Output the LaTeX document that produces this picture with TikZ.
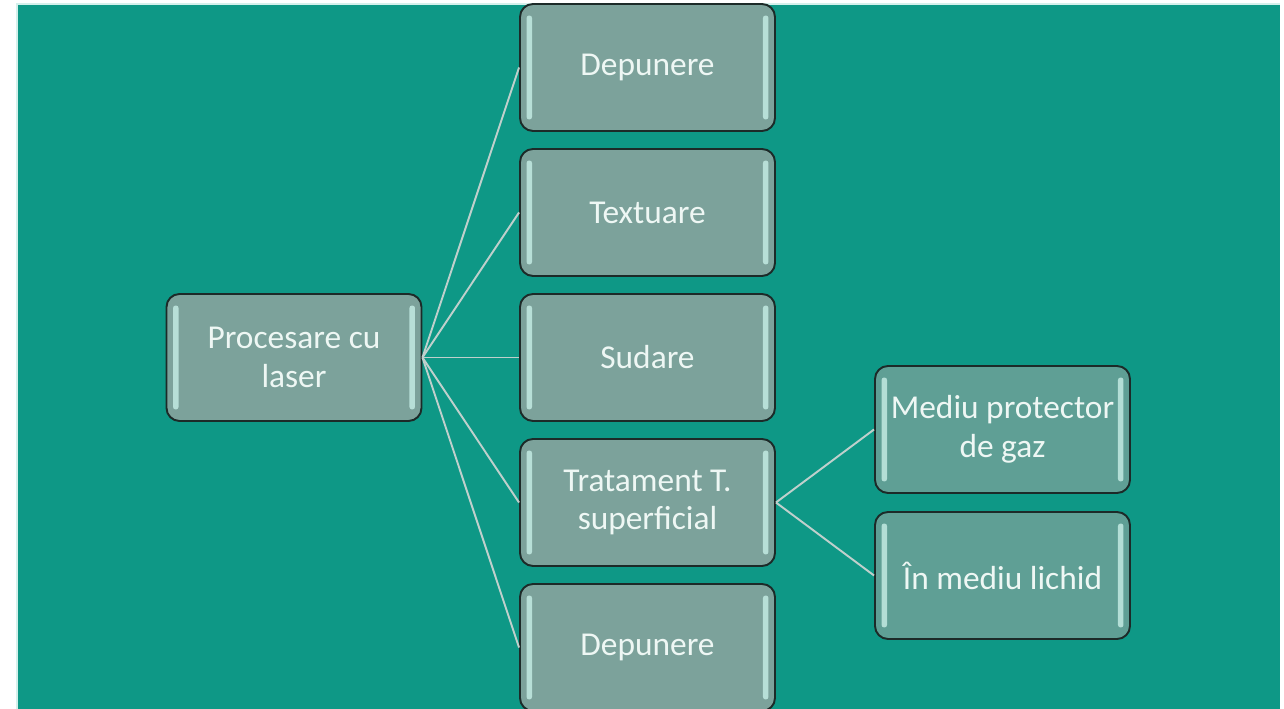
\documentclass[tikz,border=0pt]{standalone}
\usepackage{fontspec}
\setmainfont{Carlito}
\usepackage{tikz}
\usetikzlibrary{positioning}

\definecolor{bgteal}{HTML}{0E9886}
\definecolor{boxgray}{HTML}{7CA29B}
\definecolor{boxteal}{HTML}{5F9F95}
\definecolor{edgedark}{HTML}{1C2A28}
\definecolor{barlight}{HTML}{C2EAE2}
\definecolor{linklight}{HTML}{BFD0CC}
\definecolor{txtlight}{HTML}{EEF7F4}

\begin{document}
\begin{tikzpicture}[font=\fontsize{19}{22}\selectfont,
    b/.style={draw=edgedark, line width=1.1pt, fill=boxgray, rounded corners=0.26cm,
        minimum width=5.1cm, minimum height=2.54cm, align=center, text=txtlight, inner sep=1pt},
    g/.style={b, fill=boxteal},
    link/.style={draw=linklight, line width=1.1pt},
    bar/.style={fill=barlight, fill opacity=0.85, rounded corners=0.05cm}
]
    \useasboundingbox (0,0) rectangle (25.68,14.18);
    \fill[bgteal] (0.34,0) rectangle (25.6,14.10);
    \draw[barlight!70, line width=0.6pt] (0.34,0) -- (0.34,14.10) -- (25.6,14.10);

    \node[b] (root) at (5.88,7.03) {Procesare cu\\laser};
    \node[b] (dep1) at (12.95,12.83) {Depunere};
    \node[b] (tex) at (12.95,9.93) {Textuare};
    \node[b] (sud) at (12.95,7.03) {Sudare};
    \node[b] (trat) at (12.95,4.13) {Tratament T.\\superficial};
    \node[b] (dep2) at (12.95,1.23) {Depunere};
    \node[g] (gaz) at (20.05,5.59) {Mediu protector\\de gaz};
    \node[g] (lich) at (20.05,2.67) {În mediu lichid};

    % glossy side bars
    \foreach \n in {root,dep1,tex,sud,trat,dep2,gaz,lich}{
        \fill[bar] ([xshift=0.15cm,yshift=-0.25cm]\n.north west) rectangle ([xshift=0.26cm,yshift=0.25cm]\n.south west);
        \fill[bar] ([xshift=-0.26cm,yshift=-0.25cm]\n.north east) rectangle ([xshift=-0.15cm,yshift=0.25cm]\n.south east);
    }

    \draw[link] (root.east) -- (dep1.west);
    \draw[link] (root.east) -- (tex.west);
    \draw[link] (root.east) -- (sud.west);
    \draw[link] (root.east) -- (trat.west);
    \draw[link] (root.east) -- (dep2.west);
    \draw[link] (trat.east) -- (gaz.west);
    \draw[link] (trat.east) -- (lich.west);
\end{tikzpicture}
\end{document}
